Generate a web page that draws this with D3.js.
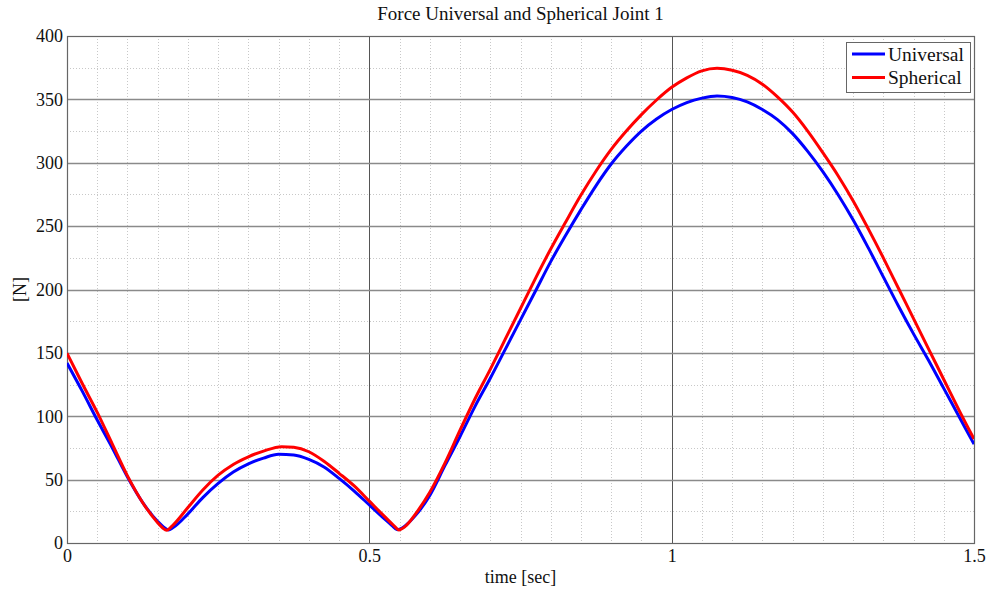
<!DOCTYPE html>
<html>
<head>
<meta charset="utf-8">
<script src="https://cdn.jsdelivr.net/npm/d3@7"></script>
<style>
  body { margin: 0; background: #fff; }
  svg { display: block; font-family: "Liberation Serif", "DejaVu Serif", serif; }
</style>
</head>
<body>
<svg id="chart" width="990" height="592"></svg>
<script>
// ---- data ----
const title = "Force Universal and Spherical Joint 1";
const xLabel = "time [sec]";
const yLabel = "[N]";
const seriesNames = ["Universal", "Spherical"];
const seriesColors = ["#0000ff", "#ff0000"];
const xTicks = [0, 0.5, 1, 1.5];
const yTicks = [0, 50, 100, 150, 200, 250, 300, 350, 400];

const timeUniversal = [0, 0.025, 0.05, 0.075, 0.1, 0.125, 0.15, 0.16, 0.168, 0.175, 0.2, 0.225, 0.25, 0.275, 0.3, 0.325, 0.35, 0.375, 0.4, 0.425, 0.45, 0.475, 0.5, 0.525, 0.537, 0.546, 0.555, 0.565, 0.575, 0.6, 0.625, 0.65, 0.675, 0.7, 0.725, 0.75, 0.775, 0.8, 0.825, 0.85, 0.875, 0.9, 0.925, 0.95, 0.975, 1.0, 1.025, 1.05, 1.075, 1.1, 1.125, 1.15, 1.175, 1.2, 1.225, 1.25, 1.275, 1.3, 1.325, 1.35, 1.375, 1.4, 1.425, 1.45, 1.475, 1.5];
const forceUniversal = [142, 120, 97, 75, 52, 32, 17, 12.5, 10.3, 12, 23, 36, 47, 56, 62.5, 67, 70, 69.5, 66, 60, 51, 41, 30, 19, 14, 10.5, 12, 16, 21, 37.5, 61, 84, 108, 130, 153, 176, 199, 222, 243, 263, 282, 299, 313, 325, 334.5, 342, 347.5, 351, 352.7, 351.5, 348, 342, 334, 323, 309, 293, 275, 255, 233, 210, 187, 165, 144, 122, 100, 78];

const timeSpherical = [0, 0.025, 0.05, 0.075, 0.1, 0.125, 0.15, 0.158, 0.165, 0.175, 0.2, 0.225, 0.25, 0.275, 0.3, 0.325, 0.355, 0.375, 0.4, 0.425, 0.45, 0.475, 0.5, 0.525, 0.54, 0.549, 0.558, 0.567, 0.575, 0.6, 0.625, 0.65, 0.675, 0.7, 0.725, 0.75, 0.775, 0.8, 0.825, 0.85, 0.875, 0.9, 0.925, 0.95, 0.975, 1.0, 1.025, 1.05, 1.075, 1.1, 1.125, 1.15, 1.175, 1.2, 1.225, 1.25, 1.275, 1.3, 1.325, 1.35, 1.375, 1.4, 1.425, 1.45, 1.475, 1.5];
const forceSpherical = [149.7, 126, 103, 78, 53, 32, 16, 12, 10, 14, 28, 42, 53.5, 62, 68, 72.5, 76, 75.5, 72, 64.5, 55, 45, 33, 21, 14, 10.3, 12.5, 17, 22, 40, 63, 89, 114, 137, 161, 185, 209, 232, 253.5, 274.5, 293.5, 310.5, 325, 338, 349.5, 359.5, 367, 372.5, 374.5, 373, 369, 362, 352, 340, 325, 308, 290, 270, 248, 225, 201, 177, 153, 129, 105, 82];

// ---- layout ----
const svg = d3.select("#chart");
const margin = { left: 67, right: 16, top: 36, bottom: 49 };
const W = 990, H = 592;
const x0 = margin.left, x1 = W - margin.right;
const y0 = H - margin.bottom, y1 = margin.top;

const x = d3.scaleLinear().domain([0, 1.5]).range([x0, x1]);
const y = d3.scaleLinear().domain([0, 400]).range([y0, y1]);

// minor grid
const xMinor = d3.range(0, 1.5001, 0.05).filter(v => Math.abs(v / 0.5 - Math.round(v / 0.5)) > 1e-6);
const yMinor = d3.range(0, 400.001, 25).filter(v => v % 50 !== 0);

const grid = svg.append("g");
grid.selectAll("line.xm").data(xMinor).join("line")
  .attr("x1", d => Math.round(x(d)) + 0.5).attr("x2", d => Math.round(x(d)) + 0.5)
  .attr("y1", y1).attr("y2", y0)
  .attr("stroke", "#c8c8c8").attr("stroke-width", 1).attr("stroke-dasharray", "1,2");
grid.selectAll("line.ym").data(yMinor).join("line")
  .attr("y1", d => Math.round(y(d)) + 0.5).attr("y2", d => Math.round(y(d)) + 0.5)
  .attr("x1", x0).attr("x2", x1)
  .attr("stroke", "#c8c8c8").attr("stroke-width", 1).attr("stroke-dasharray", "1,2");

// major grid
grid.selectAll("line.xM").data(xTicks.slice(1, -1)).join("line")
  .attr("x1", d => Math.round(x(d)) + 0.5).attr("x2", d => Math.round(x(d)) + 0.5)
  .attr("y1", y1).attr("y2", y0)
  .attr("stroke", "#555").attr("stroke-width", 1);
grid.selectAll("line.yM").data(yTicks.slice(1, -1)).join("line")
  .attr("y1", d => Math.round(y(d)) + 0.5).attr("y2", d => Math.round(y(d)) + 0.5)
  .attr("x1", x0).attr("x2", x1)
  .attr("stroke", "#8a8a8a").attr("stroke-width", 1.3);

// frame
svg.append("rect")
  .attr("x", x0 + 0.5).attr("y", y1 + 0.5)
  .attr("width", x1 - x0).attr("height", y0 - y1)
  .attr("fill", "none").attr("stroke", "#666").attr("stroke-width", 1.2);

// axes (labels only)
const xAxis = d3.axisBottom(x).tickValues(xTicks).tickFormat(d3.format("~g")).tickSize(0).tickPadding(6);
const gx = svg.append("g").attr("transform", `translate(0,${y0})`).call(xAxis);
gx.select(".domain").remove();
gx.selectAll("text").attr("font-size", 18).attr("fill", "#111")
  .attr("font-family", "Liberation Serif, serif");

const yAxis = d3.axisLeft(y).tickValues(yTicks).tickFormat(d3.format("~g")).tickSize(0).tickPadding(4);
const gy = svg.append("g").attr("transform", `translate(${x0},0)`).call(yAxis);
gy.select(".domain").remove();
gy.selectAll("text").attr("font-size", 18).attr("fill", "#111")
  .attr("font-family", "Liberation Serif, serif");

// lines
const datasets = [
  { name: seriesNames[0], color: seriesColors[0], t: timeUniversal, v: forceUniversal },
  { name: seriesNames[1], color: seriesColors[1], t: timeSpherical, v: forceSpherical }
];
const line = d3.line().x(d => x(d[0])).y(d => y(d[1])).curve(d3.curveMonotoneX);
const clip = svg.append("clipPath").attr("id", "clip").append("rect")
  .attr("x", x0).attr("y", y1).attr("width", x1 - x0).attr("height", y0 - y1);
datasets.forEach(ds => {
  svg.append("path")
    .datum(ds.t.map((t, i) => [t, ds.v[i]]))
    .attr("fill", "none").attr("stroke", ds.color).attr("stroke-width", 3)
    .attr("stroke-linejoin", "round")
    .attr("clip-path", "url(#clip)")
    .attr("d", line);
});

// title & labels
svg.append("text").attr("x", (x0 + x1) / 2).attr("y", 20).attr("text-anchor", "middle")
  .attr("font-size", 19).attr("fill", "#111").text(title);
svg.append("text").attr("x", (x0 + x1) / 2).attr("y", 583).attr("text-anchor", "middle")
  .attr("font-size", 18).attr("fill", "#111").text(xLabel);
svg.append("text").attr("transform", `translate(26,${(y0 + y1) / 2}) rotate(-90)`)
  .attr("text-anchor", "middle").attr("font-size", 18).attr("fill", "#111").text(yLabel);

// legend
const lg = svg.append("g").attr("transform", "translate(846,42)");
lg.append("rect").attr("x", 0.5).attr("y", 0.5).attr("width", 124).attr("height", 50)
  .attr("fill", "#fff").attr("stroke", "#666").attr("stroke-width", 1);
datasets.forEach((ds, i) => {
  const yy = 12 + i * 23.5;
  lg.append("line").attr("x1", 6).attr("x2", 39).attr("y1", yy).attr("y2", yy)
    .attr("stroke", ds.color).attr("stroke-width", 3);
  lg.append("text").attr("x", 42).attr("y", yy + 6.5).attr("font-size", 19.5).attr("fill", "#111")
    .text(ds.name);
});
</script>
</body>
</html>
